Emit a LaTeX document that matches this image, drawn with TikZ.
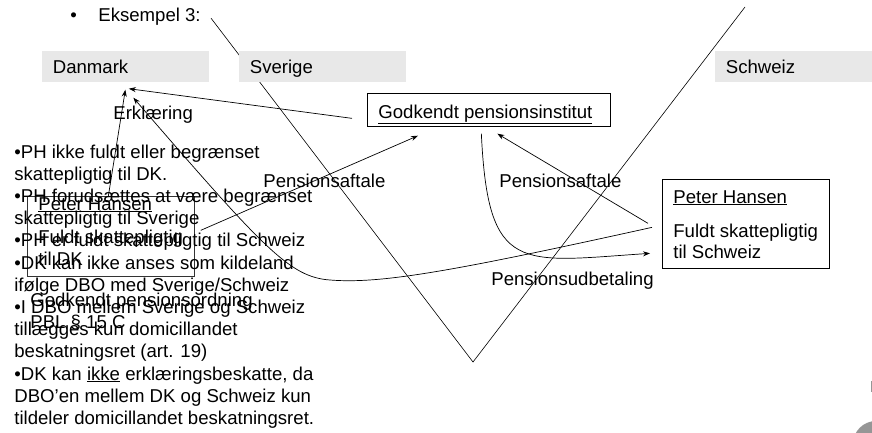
\documentclass[tikz,border=0pt]{standalone}
\usepackage{fontspec}
\setmainfont{Liberation Sans}
\usepackage{tikz}
\usetikzlibrary{arrows.meta,calc}
\definecolor{landgray}{RGB}{232,232,232}
\definecolor{cornergray}{RGB}{150,150,150}

\begin{document}
\begin{tikzpicture}[x=1pt, y=-1pt, line width=0.7pt, >={Stealth[length=7pt,width=5pt]},
    land/.style={fill=landgray, anchor=north west, minimum width=167pt, minimum height=31pt,
        text width=146pt, inner xsep=10.5pt, inner ysep=0pt, text height=13pt, text depth=0pt, align=left, font=\slide},
    frame/.style={draw, anchor=north west, inner sep=0pt},
    txt/.style={inner sep=0pt, anchor=base west, font=\slide}]
    \def\slide{\fontsize{18.6}{22.2}\selectfont}
    \useasboundingbox (0,0) rectangle (872,432);

    % heading
    \node[txt] (bul) at (70,21) {•};
    \node[txt] (eks) at (98,21) {Eksempel 3:};

    % the V behind the land boxes
    \coordinate (vbot) at (473,362);
    \coordinate (vtop) at (745,7);
    \draw[line width=0.6pt] ($(eks.east)+(10,2)$) -- (vbot) -- (vtop);

    % lands
    \node[land] (dk) at (42,51) {Danmark};
    \node[land] (se) at (239,51) {Sverige};
    \node[land, inner xsep=7pt] (ch) at (715,51) {Schweiz};

    % boxes
    \node[frame, minimum width=243pt, minimum height=33pt] (gpi) at (367,93) {};
    \node[txt] (gpitxt) at (378,118) {\underline{Godkendt pensionsinstitut}};

    \node[frame, minimum width=167pt, minimum height=89pt] (phch) at (662,179) {};
    \node[txt] (phchname) at (673,203) {\underline{Peter Hansen}};
    \node[txt] (phchtax) at (673,237) {Fuldt skattepligtig};
    \node[txt] (phchland) at (673,258) {til Schweiz};

    \node[frame, minimum width=167pt, minimum height=80pt, draw=black!80] (phdk) at (27,196) {};
    \node[txt] (phdkname) at (38,210) {\underline{Peter Hansen}};
    \node[txt] (phdktax) at (38,243) {Fuldt skattepligtig};
    \node[txt] (phdkland) at (38,265) {til DK};
    \node[txt] (ordning) at (30,306) {Godkendt pensionsordning};
    \node[txt] (pbl) at (30,328) {PBL § 15 C};

    % notes (base is the last line)
    \node[txt, align=left] (notes) at (14,424.4) {•PH ikke fuldt eller begrænset\\
        skattepligtig til DK.\\
        •PH forudsættes at være begrænset\\
        skattepligtig til Sverige\\
        •PH er fuldt skattepligtig til Schweiz\\
        •DK kan ikke anses som kildeland\\
        ifølge DBO med Sverige/Schweiz\\
        •I DBO mellem Sverige og Schweiz\\
        tillægges kun domicillandet\\
        beskatningsret (art. 19)\\
        •DK kan \underline{ikke} erklæringsbeskatte, da\\
        DBO’en mellem DK og Schweiz kun\\
        tildeler domicillandet beskatningsret.};

    % connectors
    \draw[->] ($(gpi.west)+(-15,8.5)$) -- ($(dk.south)+(3,6)$);
    \draw[->] ($(phdk.north)+(-2.5,0)$) -- ($(dk.south)+(-0.5,7)$);
    \draw[->] ($(phch.west)+(-10,3.5)$) .. controls (450,272) and (380,284) .. (330,280)
        .. controls (290,277) and (265,250) .. ($(dk.south)+(7.5,15)$);
    \draw[->] ($(phdk.east)+(6,-6)$) -- ($(gpi.south west)+(51,9)$);
    \draw[->] ($(phch.west)+(-14,-0.5)$) -- ($(gpi.south)+(8.5,7)$);
    \draw[->] ($(gpi.south)+(-7.5,7)$) .. controls (488,275) and (520,262) .. ($(phch.west)+(-12,29.5)$);

    % labels
    \node[txt] (erkl) at (113,119) {Erklæring};
    \node[txt] (aftaledk) at (263,187) {Pensionsaftale};
    \node[txt] (aftalech) at (499,187) {Pensionsaftale};
    \node[txt] (udbet) at (491,285) {Pensionsudbetaling};

    % slide corner
    \fill[cornergray] (876,444) circle (23);
    \fill[cornergray] (870.5,381) rectangle (872,392);
\end{tikzpicture}
\end{document}
